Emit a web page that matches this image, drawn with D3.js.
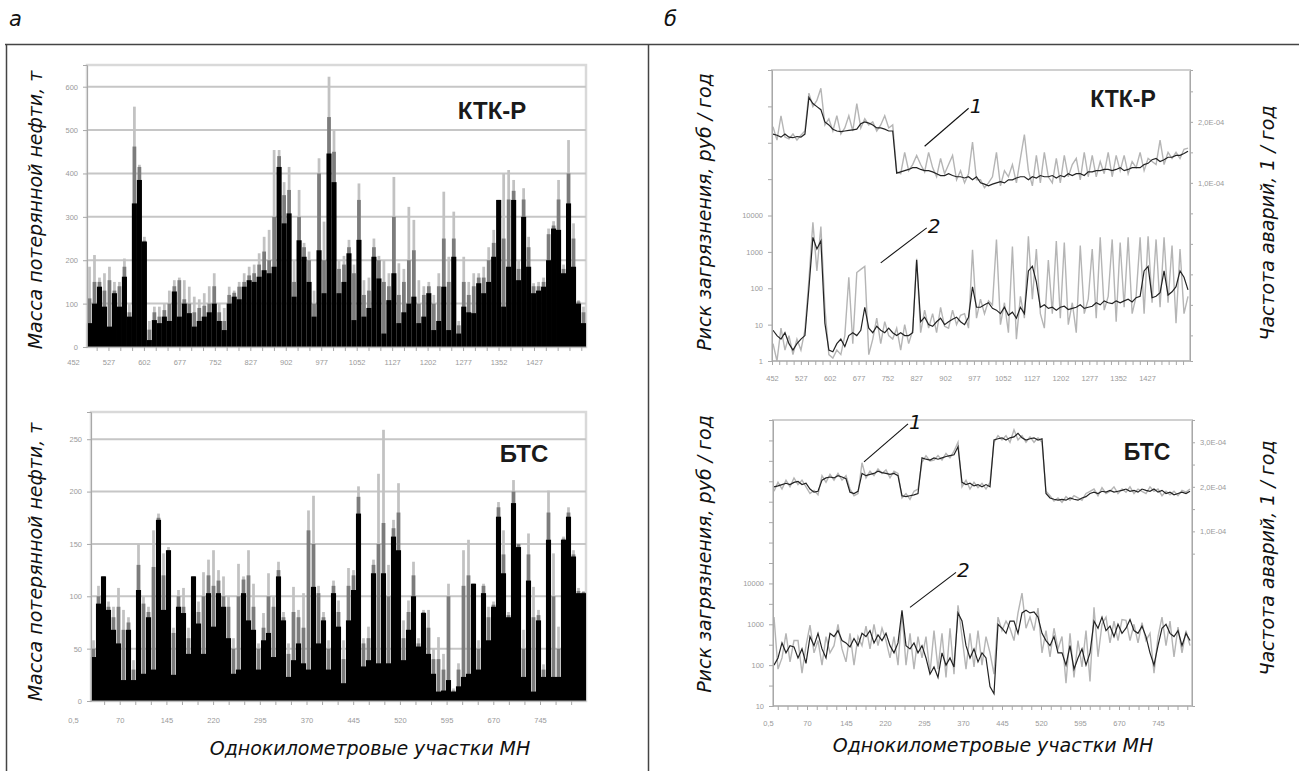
<!DOCTYPE html>
<html>
<head>
<meta charset="utf-8">
<script src="https://cdn.jsdelivr.net/npm/d3@7"></script>
<style>
  body { margin: 0; background: #fff; }
  svg text { font-family: "Liberation Sans", Arial, sans-serif; }
  .ttl { font-family: "DejaVu Sans", sans-serif; font-style: italic; font-size: 19px; fill: #111; }
  .tk text { font-size: 7.5px; fill: #9a9a9a; }
  .tk line, .tk path { stroke: #a8a8a8; }
</style>
</head>
<body>
<svg id="fig" width="1299" height="771"></svg>
<script>
// ---- data: left panels, mass of lost oil (t) per 1 km section ----
const ktkLabels = ["452","527","602","677","752","827","902","977","1052","1127","1202","1277","1352","1427"];
const ktkMassTicks = [0,100,200,300,400,500,600];
const ktkBlack = [55,100,139,93,47,124,93,162,70,331, 385,243,16,62,55,70,60,128,70,100,
  78,47,60,70,80,100,60,39,100,116, 110,139,154,150,162,177,170,185,415,285,
  308,116,246,208,150,70,223,124,446,380, 124,150,216,62,247,70,90,208,158,31,
  108,170,55,80,100,116,55,70,124,39, 60,139,39,208,31,93,80,78,147,124,
  150,208,339,93,185,339,154,300,185,124, 130,139,200,273,270,170,331,185,100,55];
const ktkDark = [112,150,150,130,154,130,140,185,80,462, 415,245,40,80,70,85,100,140,154,110,
  100,80,90,95,100,140,80,60,120,125, 139,150,165,170,190,220,200,300,440,350,
  362,150,300,230,200,100,400,200,530,450, 180,190,230,170,339,120,130,230,200,150,
  140,300,120,150,200,223,100,120,140,100, 140,250,150,250,50,150,120,140,160,160,
  200,240,339,250,340,360,180,340,230,140, 140,150,260,280,340,180,400,250,105,80];
const ktkLight = [185,212,160,170,185,150,150,204,100,554, 420,254,60,93,93,100,130,154,160,154,
  139,116,110,124,140,170,100,90,139,130, 150,170,185,190,216,254,270,454,454,380,
  415,200,362,240,220,130,435,289,623,500, 200,210,247,190,377,154,160,250,210,200,
  170,392,193,180,323,293,154,140,150,120, 170,358,208,312,60,208,150,170,170,185,
  230,270,339,400,408,385,200,366,254,147, 150,160,273,290,385,190,477,285,108,93];

const btsLabels = ["0,5","70","145","220","295","370","445","520","595","670","745"];
const btsMassTicks = [0,50,100,150,200,250];
const btsBlack = [42,93,119,87,68,55,20,68,20,106, 26,80,30,173,87,144,25,90,84,45,
  119,74,45,103,71,103,90,60,26,30, 103,77,68,30,58,65,42,119,77,23,
  39,55,36,30,109,55,77,30,103,71, 17,77,106,179,33,39,122,36,122,36,
  157,144,39,68,100,52,84,45,26,9, 10,20,9,14,23,26,112,30,103,58,
  90,176,122,80,189,147,23,115,9,77, 23,154,23,23,154,176,138,103,103];
const btsDark = [50,100,119,90,80,90,68,75,30,130, 93,85,128,175,120,144,65,100,90,60,
  119,85,100,120,110,115,100,90,50,100, 116,120,90,50,70,100,90,125,80,45,
  85,80,70,163,150,103,80,50,110,85, 40,110,120,195,55,60,130,150,170,100,
  165,180,60,85,120,55,85,70,40,40, 30,100,10,30,110,120,112,50,110,80,
  92,185,140,82,200,150,50,140,80,82, 30,180,100,50,155,180,140,105,104];
const btsLight = [58,110,119,95,90,108,87,80,39,150, 100,90,163,179,141,147,70,106,108,70,
  119,95,123,135,144,125,119,100,60,131, 119,144,112,55,84,122,100,133,85,55,
  109,87,103,182,196,110,85,58,115,96, 58,127,125,205,60,71,135,217,259,130,
  173,208,77,96,133,60,87,87,50,61, 45,112,12,36,144,154,112,58,112,90,
  95,190,163,85,211,150,68,160,109,87, 35,201,141,71,157,185,144,108,105];

// ---- data: right panels, accident frequency (x1E-04 1/yr) and pollution risk (rub/yr) ----
const ktkFreqBlack = [1.8,1.78,1.75,1.8, 1.75,1.74,1.76,1.75,1.8, 2.4, 2.3,2.25,2.2, 2.0,1.95,1.88,
  1.85,1.84,1.85, 1.86,1.87,1.88, 1.97,2.0,1.98,1.95, 1.9,1.9,1.88,1.85, 1.85, 1.16,
  1.18,1.2,1.22,1.25, 1.25,1.22,1.2,1.2, 1.18,1.15,1.12,1.12, 1.15,1.12,1.1,1.1,
  1.08,1.1,1.05,1.1, 1.0,0.98,0.95,0.98, 1.0,1.02,1.0,1.05, 1.05,1.08,1.1,1.1,
  1.05,1.1,1.08,1.12, 1.1,1.1,1.12,1.08, 1.12,1.1,1.15,1.12, 1.15,1.15,1.12,1.18,
  1.18,1.2,1.2,1.22, 1.22,1.2,1.22,1.25, 1.2,1.22,1.25,1.25, 1.25,1.3,1.32,1.38,
  1.4,1.35,1.38,1.42, 1.42,1.45,1.45,1.48,1.52];
const ktkFreqGray = [1.92,1.7,2.1,1.75, 1.72,1.8,1.7,1.78,1.85, 2.47, 2.25,2.35,2.55, 1.95,2.05,1.85,
  2.1,1.8,1.9, 2.1,1.85,2.3, 1.9,2.05,1.95,2.0, 1.85,1.95,2.1,1.9, 1.95, 1.18,
  1.15,1.5,1.2,1.3, 1.45,1.3,1.18,1.5, 1.25,1.1,1.4,1.15, 1.3,1.45,1.05,1.2,
  1.0,1.15,1.67,1.05, 1.05,0.92,1.0,1.1, 1.5,0.95,1.2,1.1, 1.3,1.0,1.4,1.79,
  1.2,0.95,1.45,1.0, 1.5,1.1,1.0,1.4, 1.0,1.45,1.1,1.3, 1.4,1.05,1.5,1.1,
  1.45,1.1,1.35,1.15, 1.5,1.1,1.45,1.2, 1.45,1.15,1.35,1.25, 1.5,1.2,1.4,1.35,
  1.3,1.7,1.3,1.5, 1.4,1.5,1.4,1.55,1.57];
const ktkRiskBlack = [7,5,4,6, 3,2,3,4,5, 100, 2500,1200,2000, 11,2,1.8, 3,4,2.5, 5,6,5,
  7,30,8,6, 9,7,6,8, 6,5, 6,5,5,6, 600, 12,16,10, 9,12,15,10, 12,14,16,12,
  10,16,110,30, 30,35,40,28, 25,20,30,18, 22,15,30,20, 300,400,150,30, 35,28,30,25,
  30,32,26,28, 30,35,28,30, 32,40,35,45, 40,38,45,40, 45,50,42,55, 60,300,400,55,
  60,75,300,65, 80,110,300,200,90];
const ktkRiskGray = [3,1,8,2, 5,1.5,4,2,7, 170, 6500,300,5000, 30,1.5,1.2, 2,1.5,5, 200,3,270,
  330,400,1.5,4, 15,3,12,5, 4,8, 2,10,3,7, 650, 6,25,8, 20,6,30,9, 8,25,10,18,
  20,8,1150,15, 50,20,45,35, 2200,10,40,6, 1400,4,60,15, 2700,50,1200,20, 8,600,20,2000,
  15,1800,10,40, 6,1500,20,50, 1200,15,2500,25, 60,2200,12,1800, 30,2500,20,60, 2500,20,2700,40,
  2200,30,2500,40, 1500,11,1200,20,60];

const btsFreqBlack = [2.0,2.02,2.05,2.08,2.05,2.1,2.12,2.05,2.08, 1.95,1.88,1.9,
  2.15,2.2,2.22,2.2,2.25,2.22,2.18, 1.88,1.85,1.9,
  2.3,2.25,2.28,2.3,2.35,2.32,2.3,2.28,2.3,2.25, 1.8,1.78,1.8,1.82,1.85,
  2.65,2.62,2.6,2.65,2.62,2.65,2.68,2.7,2.72, 2.9, 2.1,2.05,2.08,2.02,2.05,2.0,2.05,2.0,
  3.05,3.08,3.1,3.05,3.1,3.12,3.2,3.1,3.05,3.08,3.1,3.05,3.08,
  1.85,1.75,1.72,1.7,1.72,1.7,1.75,1.72,1.7,1.75,1.78,
  1.85,1.88,1.85,1.9,1.88,1.92,1.88,1.9,1.92,1.95,1.9,1.92,1.88,1.95,1.92,1.9,1.95,1.88,1.92,1.85,1.88,1.82,1.85,1.88,1.85,1.9];
const btsFreqGray = [1.9,2.1,1.95,2.15,2.0,2.2,2.05,2.15,2.0, 1.85,1.92,1.82,
  2.25,2.1,2.28,2.15,2.3,2.15,2.25, 1.95,1.8,1.85,
  2.54,2.2,2.35,2.25,2.4,2.3,2.38,2.2,2.35,2.3, 1.75,1.85,1.72,1.9,1.95,
  2.55,2.7,2.58,2.6,2.7,2.6,2.75,2.65,2.8, 3.0, 2.0,2.15,1.95,2.1,1.98,2.08,1.95,2.1,
  3.0,3.15,3.05,3.15,3.0,3.28,3.05,3.15,3.0,3.12,3.0,3.1,3.0,
  1.9,1.8,1.68,1.75,1.65,1.78,1.7,1.8,1.75,1.7,1.85,
  1.9,1.95,1.8,1.98,1.85,1.9,2.0,1.85,1.95,1.88,2.0,1.85,1.95,1.9,1.85,2.0,1.9,1.95,1.8,1.9,1.82,1.9,1.8,1.92,1.88,1.95];
const btsRiskBlack = [100,150, 350,200,300,280, 150,250,110, 500,300,600, 250,150,600, 500,700,400,
  350,280,450,300, 600,500,700,350,550,400,600, 300,200,350, 2200, 300,250,350,200,300,
  150,60,90,50, 200,100,150,90, 1900,1200, 300,150,250,120,200,150, 30,20,
  1000,800,600,1200, 1200,600,1900, 2200,1900,2000,1500, 600,400,300,500,200,
  200,100,300,80,150,250,100,200, 1200,800,1500, 700,900,500,1000,600,
  800,1300,700,600,900,500, 200,100,300, 800,1000,600, 500,700,300,600,400];
const btsRiskGray = [1500,80, 150,600,120,400, 400,64,300, 950,200,400, 100,500,200, 300,1000,250,
  120,600,100,500, 300,900,250,1000,300,800,400, 150,500,100, 2000, 100,600,80,500,150,
  500,64,700,80, 600,50,800,60, 2900,500, 80,600,90,700,100,500, 200,60,
  1500,700,1200,800, 400,1900,5800, 800,1500,700,2500, 200,700,160,800,250,
  500,36,600,50,400,90,700,40, 2600,160,1000, 1500,350,1200,400,1300,
  1250,400,1000,350,1100,400, 600,64,500, 1500,300,1200, 160,850,200,700,300];

const svg = d3.select("#fig");

// outer frame lines
svg.append("line").attr("x1", 5).attr("y1", 44.5).attr("x2", 1299).attr("y2", 44.5)
  .attr("stroke", "#444").attr("stroke-width", 1.5);
svg.append("line").attr("x1", 6.5).attr("y1", 44).attr("x2", 6.5).attr("y2", 771)
  .attr("stroke", "#444").attr("stroke-width", 1.5);
svg.append("line").attr("x1", 648.5).attr("y1", 44).attr("x2", 648.5).attr("y2", 771)
  .attr("stroke", "#444").attr("stroke-width", 1.5);

svg.append("text").attr("class", "ttl").attr("x", 9).attr("y", 26).style("font-size", "21px").text("а");
svg.append("text").attr("class", "ttl").attr("x", 664).attr("y", 26).style("font-size", "21px").text("б");

function vTitle(x, y, txt) {
  svg.append("text").attr("class", "ttl").attr("text-anchor", "middle")
    .attr("transform", `translate(${x},${y}) rotate(-90)`).text(txt);
}

// x axis with category labels and minor ticks
function catAxis(g, labels, x0, x1, left, right, bottom, step, pad) {
  const xl = d3.scaleLinear().domain([0, labels.length - 1]).range([x0, x1]);
  const lo = Math.ceil(xl.invert(left) / step) * step;
  const minor = d3.range(lo, xl.invert(right) + 1e-6, step);
  g.append("g").attr("class", "tk").attr("transform", `translate(0,${bottom})`)
    .call(d3.axisBottom(xl).tickValues(minor).tickSize(4).tickFormat(""))
    .call(a => a.select(".domain").remove());
  g.append("line").attr("x1", left).attr("x2", right).attr("y1", bottom).attr("y2", bottom)
    .attr("stroke", "#a8a8a8").attr("stroke-width", 1.2);
  g.append("g").attr("class", "tk").attr("transform", `translate(0,${bottom})`)
    .call(d3.axisBottom(xl).tickValues(d3.range(labels.length)).tickSize(0).tickPadding(pad)
      .tickFormat(i => labels[i]))
    .call(a => a.select(".domain").remove());
}

function barPanel(c) {
  const g = svg.append("g");
  const x = d3.scaleBand().domain(d3.range(c.black.length)).range([c.left, c.right]);
  const y = d3.scaleLinear().domain([0, c.ymax]).range([c.bottom, c.top]);
  const bw = x.bandwidth();

  g.append("rect").attr("x", c.left).attr("y", c.top)
    .attr("width", c.right - c.left).attr("height", c.bottom - c.top)
    .attr("fill", "none").attr("stroke", "#d9d9d9").attr("stroke-width", 2.5);
  g.selectAll(".grid").data(c.yticks.filter(d => d > 0)).join("line")
    .attr("x1", c.left).attr("x2", c.right).attr("y1", d => y(d)).attr("y2", d => y(d))
    .attr("stroke", "#c6c6c6").attr("stroke-width", 2);

  const layer = (vals, w, col) => g.append("g").selectAll("rect").data(vals).join("rect")
    .attr("x", (d, i) => x(i) + (bw - bw * w) / 2).attr("width", bw * w)
    .attr("y", d => y(d)).attr("height", d => c.bottom - y(d)).attr("fill", col);
  layer(c.light, 0.55, "#c2c2c2");
  layer(c.dark, 0.75, "#7c7c7c");
  layer(c.black, 1.02, "#000");

  g.append("g").attr("class", "tk").attr("transform", `translate(${c.left},0)`)
    .call(d3.axisLeft(y).tickValues(c.yticks).tickSize(4).tickPadding(5));
  catAxis(g, c.labels, c.lx0, c.lx1, c.left, c.right, c.bottom, 1 / 3, c.pad);

  g.append("text").attr("x", c.nameX).attr("y", c.nameY).attr("text-anchor", "middle")
    .style("font-size", "24px").style("font-weight", "bold").attr("fill", "#1a1a1a").text(c.name);
}

barPanel({ left: 87, right: 586, top: 65, bottom: 347, ymax: 650, yticks: ktkMassTicks,
  black: ktkBlack, dark: ktkDark, light: ktkLight, labels: ktkLabels, lx0: 73, lx1: 534, pad: 13,
  name: "КТК-Р", nameX: 492, nameY: 119 });
barPanel({ left: 91, right: 586, top: 412, bottom: 701, ymax: 276, yticks: btsMassTicks,
  black: btsBlack, dark: btsDark, light: btsLight, labels: btsLabels, lx0: 73, lx1: 540, pad: 17,
  name: "БТС", nameX: 524, nameY: 462 });

vTitle(42, 210, "Масса потерянной нефти, т");
vTitle(42, 562, "Масса потерянной нефти, т");
svg.append("text").attr("class", "ttl").attr("x", 370).attr("y", 755).attr("text-anchor", "middle")
  .text("Однокилометровые участки МН");

const fmtE = v => v.toFixed(1).replace(".", ",") + "E-04";

function linePanel(c) {
  const g = svg.append("g");
  const n = c.freqBlack.length;
  const xi = d3.scaleLinear().domain([0, n - 1]).range([c.left + 1, c.right - 2]);
  const yL = d3.scaleLog().domain(c.logDomain).range([c.bottom, c.top]);
  const yR = d3.scaleLinear().domain(c.freqDomain).range([c.bottom, c.top]);

  g.append("rect").attr("x", c.left).attr("y", c.top)
    .attr("width", c.right - c.left).attr("height", c.bottom - c.top)
    .attr("fill", "none").attr("stroke", "#d0d0d0").attr("stroke-width", 2);

  const lineL = d3.line().x((d, i) => xi(i)).y(d => yL(d));
  const lineR = d3.line().x((d, i) => xi(i)).y(d => yR(d));
  g.append("path").datum(c.riskGray).attr("d", lineL).attr("fill", "none")
    .attr("stroke", "#b5b5b5").attr("stroke-width", 1.4);
  g.append("path").datum(c.riskBlack).attr("d", lineL).attr("fill", "none")
    .attr("stroke", "#222").attr("stroke-width", 1.2);
  g.append("path").datum(c.freqGray).attr("d", lineR).attr("fill", "none")
    .attr("stroke", "#b5b5b5").attr("stroke-width", 1.4);
  g.append("path").datum(c.freqBlack).attr("d", lineR).attr("fill", "none")
    .attr("stroke", "#222").attr("stroke-width", 1.2);

  const isLab = d => Math.abs(Math.log10(d) - Math.round(Math.log10(d))) < 1e-9 && d <= 10000;
  g.append("g").attr("class", "tk").attr("transform", `translate(${c.left},0)`)
    .call(d3.axisLeft(yL).tickValues(c.logTicks).tickSize(4).tickPadding(5)
      .tickFormat(d => isLab(d) ? String(Math.round(d)) : ""));
  g.append("g").attr("class", "tk").attr("transform", `translate(${c.right},0)`)
    .call(d3.axisRight(yR).tickValues(c.freqTicks).tickSize(3).tickPadding(5)
      .tickFormat(d => c.freqLabels.includes(d) ? fmtE(d) : ""));
  catAxis(g, c.labels, c.lx0, c.lx1, c.left, c.right, c.bottom, 1 / 4, 15);

  g.append("text").attr("x", c.nameX).attr("y", c.nameY).attr("text-anchor", "middle")
    .style("font-size", "23px").style("font-weight", "bold").attr("fill", "#1a1a1a").text(c.name);

  // numbered leaders
  const lead = (px, py, dx, dy, t) => {
    g.append("line").attr("x1", px).attr("y1", py).attr("x2", px + dx).attr("y2", py + dy)
      .attr("stroke", "#111").attr("stroke-width", 1.1);
    g.append("text").attr("class", "ttl").attr("x", px + dx + 1).attr("y", py + dy + 5)
      .style("font-size", "20px").text(t);
  };
  lead(xi(c.lead1[0]), yR(c.lead1[1]), 44, -38, "1");
  lead(xi(c.lead2[0]), yL(c.lead2[1]), 46, -35, "2");
}

linePanel({ left: 772, right: 1190, top: 70, bottom: 361,
  logDomain: [1, 1e8], logTicks: d3.range(0, 9).map(k => Math.pow(10, k)),
  freqDomain: [-1.92, 2.85], freqTicks: [-1.5, -1, -0.5, 0, 0.5, 1, 1.5, 2, 2.5], freqLabels: [1, 2],
  freqBlack: ktkFreqBlack, freqGray: ktkFreqGray, riskBlack: ktkRiskBlack, riskGray: ktkRiskGray,
  labels: ktkLabels, lx0: 772, lx1: 1147, name: "КТК-Р", nameX: 1123, nameY: 107,
  lead1: [38, 1.6], lead2: [27, 500] });
linePanel({ left: 773, right: 1192, top: 420, bottom: 706,
  logDomain: [10, 1e8], logTicks: d3.range(2, 17).map(k => Math.pow(10, k / 2)),
  freqDomain: [-2.92, 3.5], freqTicks: [0.5, 1, 1.5, 2, 2.5, 3, 3.5], freqLabels: [1, 2, 3],
  freqBlack: btsFreqBlack, freqGray: btsFreqGray, riskBlack: btsRiskBlack, riskGray: btsRiskGray,
  labels: btsLabels, lx0: 768, lx1: 1158, name: "БТС", nameX: 1147, nameY: 460,
  lead1: [22.5, 2.56], lead2: [34, 2600] });

vTitle(711, 212, "Риск загрязнения, руб / год");
vTitle(711, 554, "Риск загрязнения, руб / год");
vTitle(1274, 223, "Частота аварий, 1 / год");
vTitle(1274, 558, "Частота аварий, 1 / год");
svg.append("text").attr("class", "ttl").attr("x", 993).attr("y", 752).attr("text-anchor", "middle")
  .text("Однокилометровые участки МН");
</script>
</body>
</html>
